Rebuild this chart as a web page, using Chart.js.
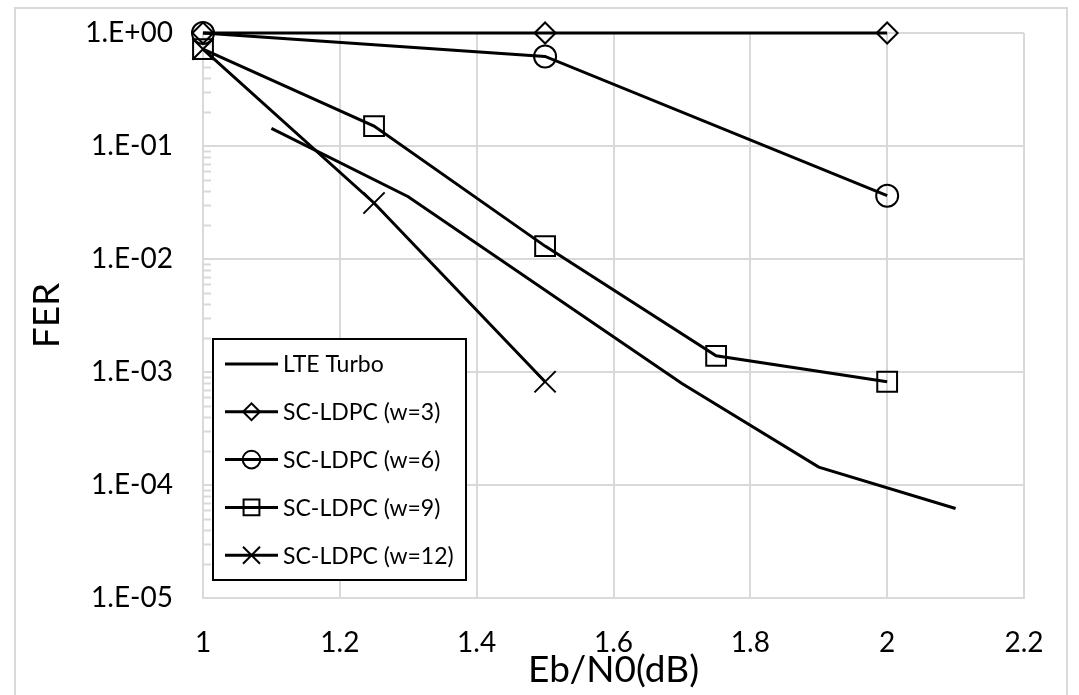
<!DOCTYPE html>
<html>
<head>
<meta charset="utf-8">
<script src="https://cdn.jsdelivr.net/npm/chart.js@4/dist/chart.umd.min.js"></script>
<style>
    body { margin: 0; background: #ffffff; }
    #wrap { width: 1079px; height: 695px; }
</style>
</head>
<body>
<div id="wrap"><canvas id="main-chart" width="1079" height="695"></canvas></div>
<script>

// values (FER vs Eb/N0)
const lte_x = [1.1, 1.3, 1.7, 1.9, 2.1];
const lte_fer = [0.143, 0.0356, 0.00079, 0.000144, 0.000062];

const w3_x = [1, 1.5, 2];
const w3_fer = [1, 1, 1];

const w6_x = [1, 1.5, 2];
const w6_fer = [1, 0.62, 0.0363];

const w9_x = [1, 1.25, 1.5, 1.75, 2];
const w9_fer = [0.72, 0.15, 0.013, 0.00139, 0.00082];

const w12_x = [1, 1.25, 1.5];
const w12_fer = [0.72, 0.0313, 0.00082];

const series_names = ["LTE Turbo", "SC-LDPC (w=3)", "SC-LDPC (w=6)", "SC-LDPC (w=9)", "SC-LDPC (w=12)"];

const x_tick_values = [1, 1.2, 1.4, 1.6, 1.8, 2, 2.2];
const x_tick_labels = ["1", "1.2", "1.4", "1.6", "1.8", "2", "2.2"];

const y_tick_values = [1, 0.1, 0.01, 0.001, 0.0001, 0.00001];
const y_tick_labels = ["1.E+00", "1.E-01", "1.E-02", "1.E-03", "1.E-04", "1.E-05"];

const font_family = "Lato, 'Liberation Sans', sans-serif";
const grid_color = "#d9d9d9";

function toPoints(xs, ys)
{
    let pts = [];
    for(let i = 0; i < xs.length; i++)
        pts.push({x: xs[i], y: ys[i]});
    return pts;
}

function makeSeries(label, xs, ys, style, radius)
{
    return {
        label: label,
        data: toPoints(xs, ys),
        borderColor: "#000000",
        borderWidth: 3,
        pointStyle: style,
        pointRadius: radius,
        pointHoverRadius: radius,
        pointBorderWidth: 2,
        pointBorderColor: "#000000",
        pointBackgroundColor: "rgba(0,0,0,0)",
        tension: 0,
        fill: false,
        clip: false
    };
}

const datasets = [
    makeSeries(series_names[0], lte_x, lte_fer, false, 0),
    makeSeries(series_names[1], w3_x, w3_fer, "rectRot", 10.5),
    makeSeries(series_names[2], w6_x, w6_fer, "circle", 11),
    makeSeries(series_names[3], w9_x, w9_fer, "rect", 14),
    makeSeries(series_names[4], w12_x, w12_fer, "crossRot", 15)
];

// outer frame of the chart
const framePlugin = {
    id: "frame",
    beforeDraw(chart)
    {
        const ctx = chart.ctx;
        ctx.save();
        ctx.fillStyle = "#ffffff";
        ctx.fillRect(0, 0, chart.width, chart.height);
        ctx.strokeStyle = grid_color;
        ctx.lineWidth = 2;
        ctx.strokeRect(15, 8, 1052, 700);
        ctx.restore();
    }
};

// minor log ticks on the inside of the y axis
const minorTicksPlugin = {
    id: "minorTicks",
    beforeDatasetsDraw(chart)
    {
        const ctx = chart.ctx;
        const y = chart.scales.y;
        const left = chart.chartArea.left;
        ctx.save();
        ctx.strokeStyle = grid_color;
        ctx.lineWidth = 2;
        for(let k = -5; k < 0; k++)
        {
            for(let m = 2; m <= 9; m++)
            {
                const py = Math.round(y.getPixelForValue(m * Math.pow(10, k))) + 0.5;
                ctx.beginPath();
                ctx.moveTo(left, py);
                ctx.lineTo(left + 8, py);
                ctx.stroke();
            }
        }
        ctx.restore();
    }
};

function drawMarker(ctx, style, r, x, y)
{
    if(!style) return;
    ctx.beginPath();
    if(style == "circle")
        ctx.arc(x, y, r, 0, Math.PI * 2);
    else if(style == "rectRot")
    {
        ctx.moveTo(x - r, y);
        ctx.lineTo(x, y - r);
        ctx.lineTo(x + r, y);
        ctx.lineTo(x, y + r);
        ctx.closePath();
    }
    else if(style == "rect")
        ctx.rect(x - r * Math.SQRT1_2, y - r * Math.SQRT1_2, 2 * r * Math.SQRT1_2, 2 * r * Math.SQRT1_2);
    else if(style == "crossRot")
    {
        const d = r * Math.SQRT1_2;
        ctx.moveTo(x - d, y - d);
        ctx.lineTo(x + d, y + d);
        ctx.moveTo(x + d, y - d);
        ctx.lineTo(x - d, y + d);
    }
    ctx.stroke();
}

// boxed legend in the lower left of the plot
const boxLegendPlugin = {
    id: "boxLegend",
    afterDraw(chart)
    {
        const ctx = chart.ctx;
        const bx = 213, by = 339, bw = 253, bh = 241;
        ctx.save();
        ctx.fillStyle = "#ffffff";
        ctx.fillRect(bx, by, bw, bh);
        ctx.strokeStyle = "#000000";
        ctx.lineWidth = 2;
        ctx.strokeRect(bx, by, bw, bh);

        const row_gap = 47.8;
        chart.data.datasets.forEach((ds, i) => {
            const cy = by + 25 + i * row_gap;
            ctx.strokeStyle = "#000000";
            ctx.lineWidth = 3;
            ctx.beginPath();
            ctx.moveTo(225, cy);
            ctx.lineTo(278, cy);
            ctx.stroke();
            ctx.lineWidth = 2;
            drawMarker(ctx, ds.pointStyle, ds.pointRadius * 0.8, 251.5, cy);
            ctx.fillStyle = "#000000";
            ctx.font = "23px " + font_family;
            ctx.textAlign = "left";
            ctx.textBaseline = "middle";
            ctx.fillText(ds.label, 283, cy + 1);
        });
        ctx.restore();
    }
};

const config = {
    type: "line",
    data: { datasets: datasets },
    options: {
        responsive: false,
        animation: false,
        layout: {
            padding: { left: 0, top: 33, right: 55, bottom: 0 }
        },
        plugins: {
            legend: { display: false },
            tooltip: { enabled: false }
        },
        scales: {
            x: {
                type: "linear",
                min: 1,
                max: 2.2,
                afterFit(scale) {
                    scale.height = 97;
                    scale.paddingLeft = 0;
                    scale.paddingRight = 0;
                },
                afterBuildTicks(scale) {
                    scale.ticks = x_tick_values.map(v => ({ value: v }));
                },
                ticks: {
                    color: "#000000",
                    padding: 28,
                    font: { family: font_family, size: 28 },
                    callback: function(value) {
                        const idx = x_tick_values.findIndex(v => Math.abs(v - value) < 1e-9);
                        return idx >= 0 ? x_tick_labels[idx] : "";
                    }
                },
                grid: { color: grid_color, lineWidth: 2, drawTicks: false },
                border: { color: grid_color, width: 2 },
                title: {
                    display: true,
                    text: "Eb/N0(dB)",
                    color: "#000000",
                    font: { family: font_family, size: 37 },
                    padding: { top: 0, bottom: 3 }
                }
            },
            y: {
                type: "logarithmic",
                min: 0.00001,
                max: 1,
                afterFit(scale) {
                    scale.width = 203;
                    scale.paddingTop = 0;
                    scale.paddingBottom = 0;
                },
                afterBuildTicks(scale) {
                    scale.ticks = y_tick_values.map(v => ({ value: v }));
                },
                ticks: {
                    color: "#000000",
                    padding: 30,
                    font: { family: font_family, size: 28 },
                    callback: function(value) {
                        const idx = y_tick_values.indexOf(value);
                        return idx >= 0 ? y_tick_labels[idx] : "";
                    }
                },
                grid: { color: grid_color, lineWidth: 2, drawTicks: false },
                border: { color: grid_color, width: 2 },
                title: {
                    display: true,
                    text: "FER",
                    color: "#000000",
                    font: { family: font_family, size: 37 },
                    padding: { top: 25, bottom: 0 }
                }
            }
        }
    },
    plugins: [framePlugin, minorTicksPlugin, boxLegendPlugin]
};

const myChart = new Chart(document.getElementById("main-chart").getContext("2d"), config);

</script>
</body>
</html>
